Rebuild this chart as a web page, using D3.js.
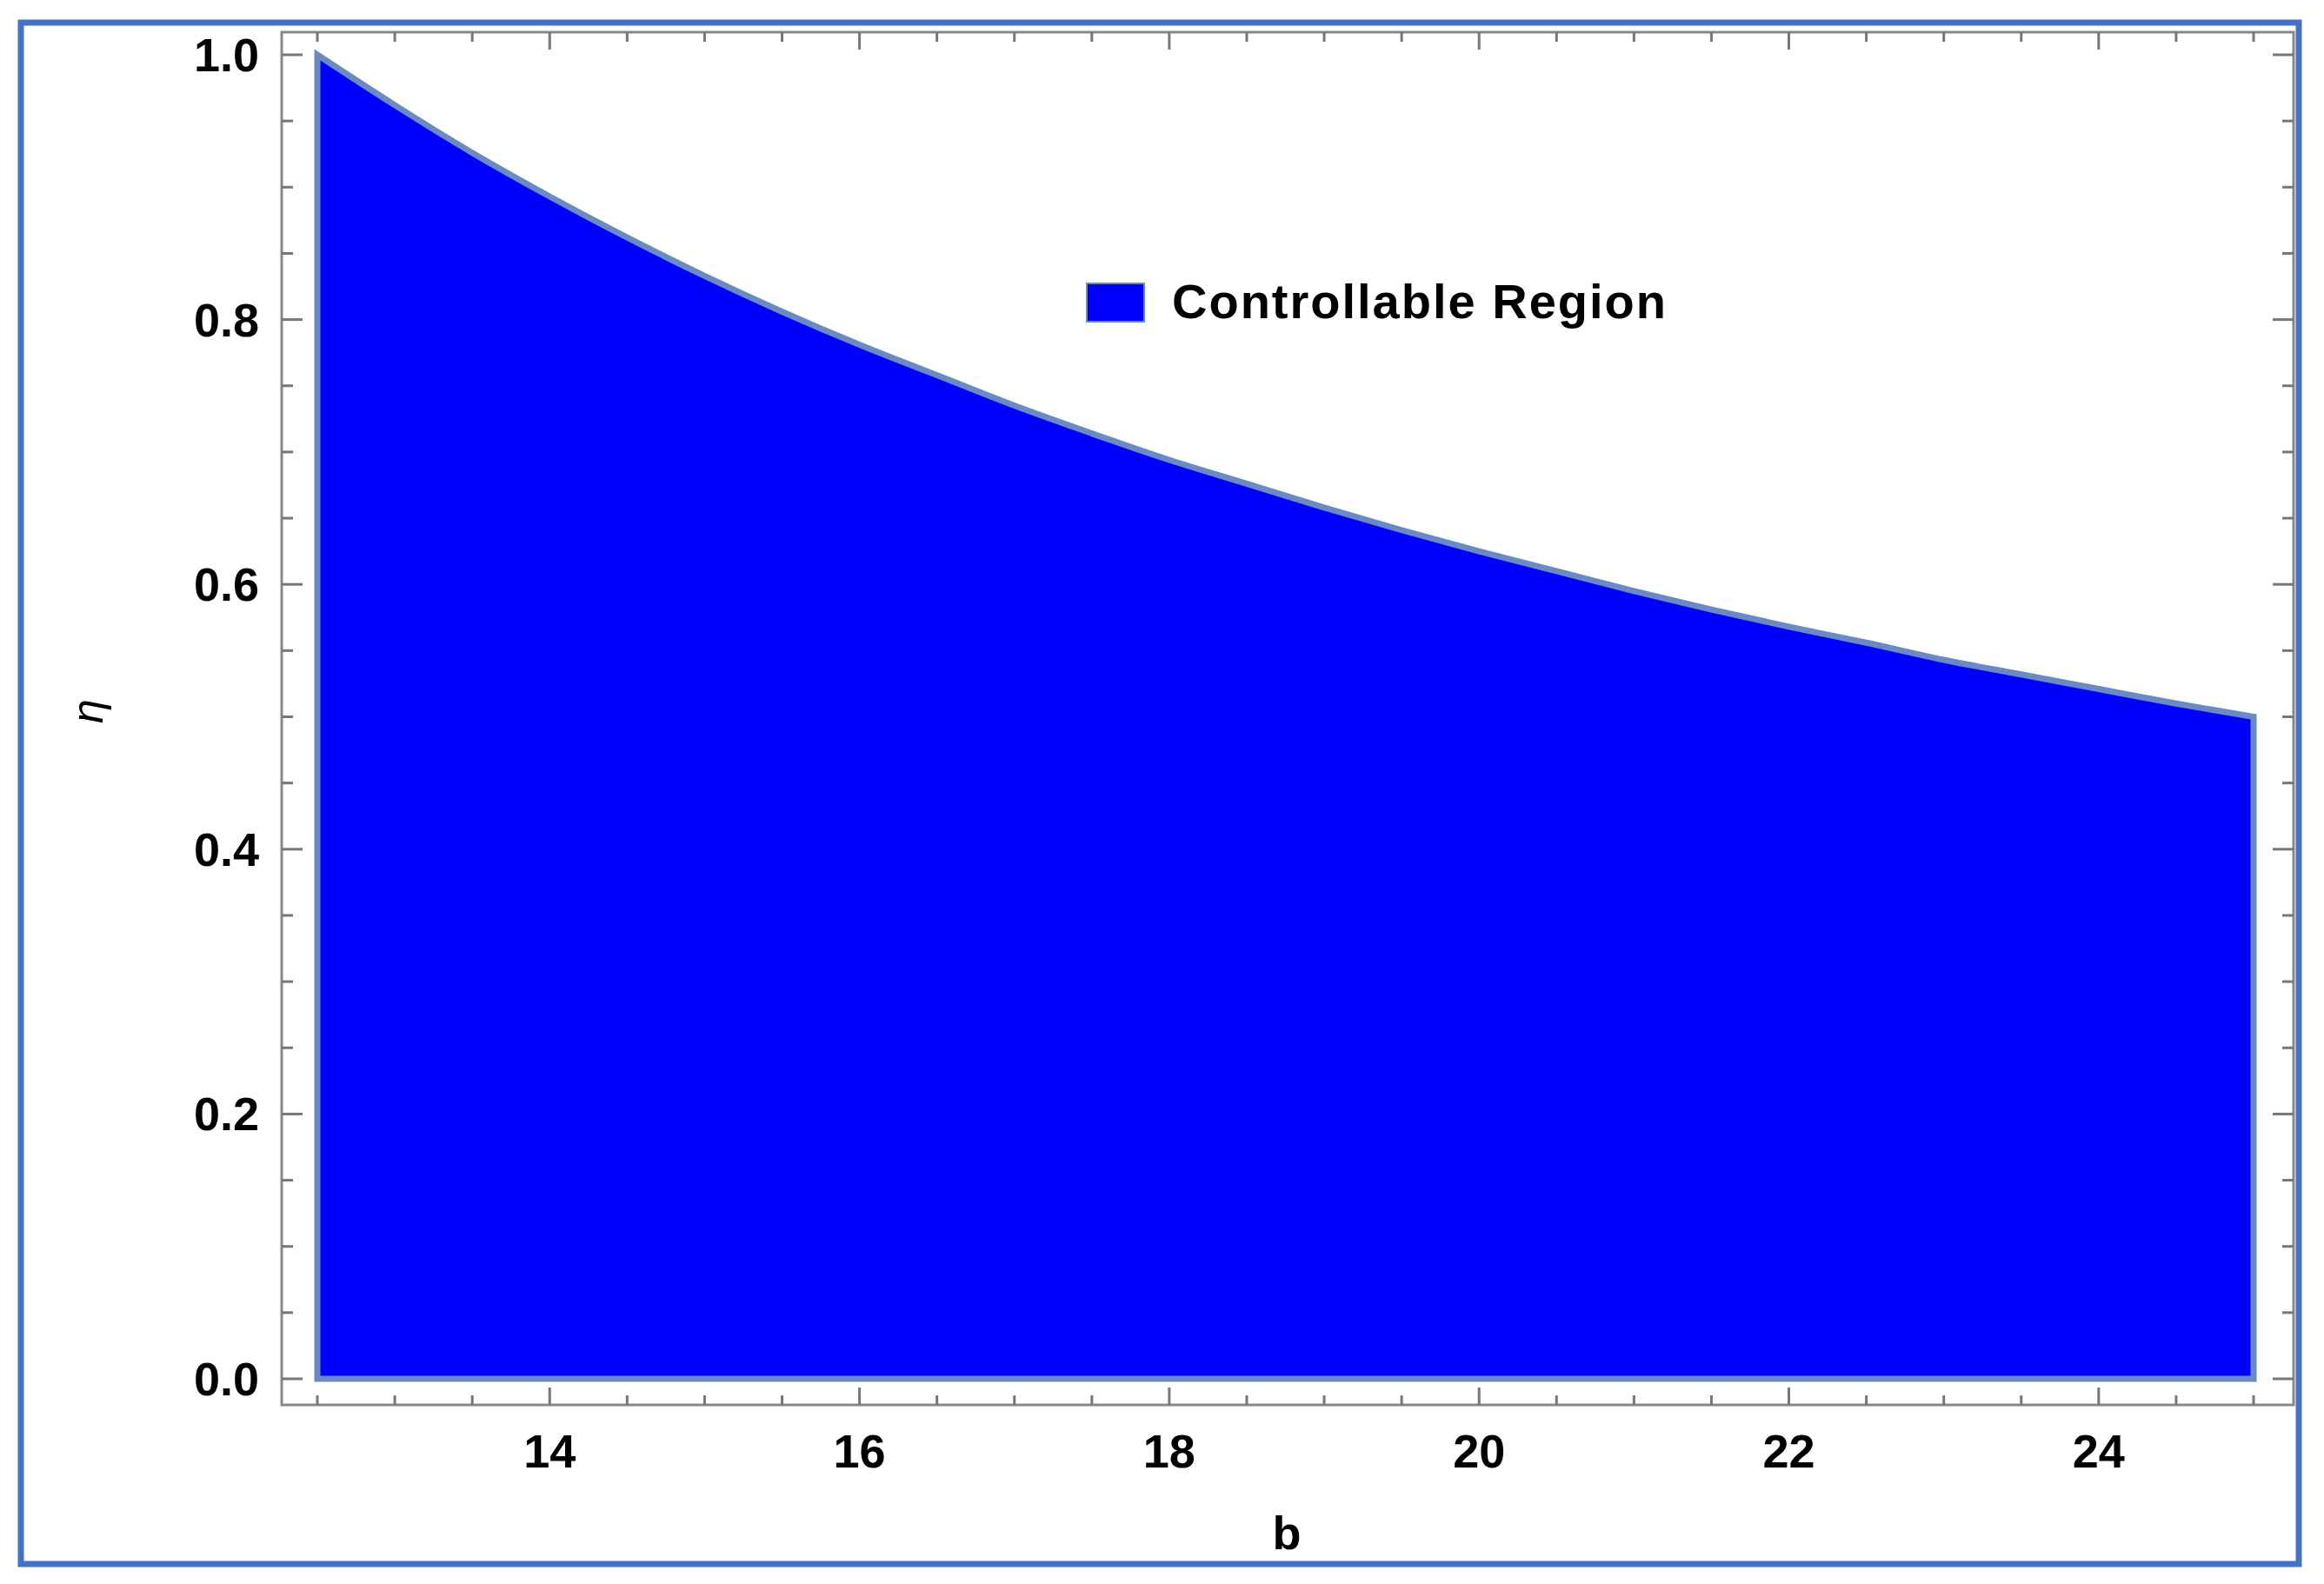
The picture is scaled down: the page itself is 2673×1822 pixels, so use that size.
<!DOCTYPE html>
<html>
<head>
<meta charset="utf-8">
<script src="https://cdn.jsdelivr.net/npm/d3@7"></script>
<style>
  body { margin: 0; background: #fff; }
  text { font-family: "Liberation Sans", Arial, sans-serif; font-weight: bold; fill: #000; }
</style>
</head>
<body>
<svg id="chart"></svg>
<script>
// boundary of the controllable region
const bValues   = [12.5, 13, 13.5, 14, 14.5, 15, 15.5, 16, 16.5, 17, 17.5, 18, 18.5, 19, 19.5, 20, 20.5, 21, 21.5, 22, 22.5, 23, 23.5, 24, 24.5, 25];
const etaValues = [1.0, 0.962, 0.926, 0.893, 0.862, 0.833, 0.806, 0.781, 0.758, 0.735, 0.714, 0.694, 0.676, 0.658, 0.641, 0.625, 0.610, 0.595, 0.581, 0.568, 0.556, 0.543, 0.532, 0.521, 0.510, 0.5];
const xTicks = [14, 16, 18, 20, 22, 24];
const yTicks = [0, 0.2, 0.4, 0.6, 0.8, 1.0];
const legendLabel = "Controllable Region";

const W = 2673, H = 1822;
const svg = d3.select("#chart").attr("width", W).attr("height", H);

// outer blue frame
svg.append("rect")
  .attr("x", 24).attr("y", 26).attr("width", 2620).attr("height", 1773)
  .attr("fill", "none").attr("stroke", "#4472C4").attr("stroke-width", 7);

const frame = { left: 324, right: 2638, top: 37, bottom: 1616 };

const x = d3.scaleLinear().domain([12.5, 25]).range([365, 2592]);
const y = d3.scaleLinear().domain([0, 1]).range([1586, 63]);

// region
const pts = bValues.map((b, i) => ({ b, eta: etaValues[i] }));
const area = d3.area()
  .x(d => x(d.b))
  .y0(y(0))
  .y1(d => y(d.eta))
  .curve(d3.curveMonotoneX);

svg.append("path")
  .datum(pts)
  .attr("d", area)
  .attr("fill", "#0000FF")
  .attr("stroke", "#6A8AC4")
  .attr("stroke-width", 7)
  .attr("stroke-linejoin", "miter");

// frame + inward ticks
svg.append("rect")
  .attr("x", frame.left).attr("y", frame.top)
  .attr("width", frame.right - frame.left).attr("height", frame.bottom - frame.top)
  .attr("fill", "none").attr("stroke", "#888").attr("stroke-width", 3);

const tickColor = "#777";
const xMinor = d3.range(12.5, 25.01, 0.5).filter(v => !xTicks.includes(v));
const yMinor = d3.range(0, 1.001, 0.05).map(v => +v.toFixed(2)).filter(v => !yTicks.includes(v));

function xTickLines(vals, len) {
  vals.forEach(v => {
    svg.append("line").attr("x1", x(v)).attr("x2", x(v))
      .attr("y1", frame.bottom).attr("y2", frame.bottom - len)
      .attr("stroke", tickColor).attr("stroke-width", 3);
    svg.append("line").attr("x1", x(v)).attr("x2", x(v))
      .attr("y1", frame.top).attr("y2", frame.top + len)
      .attr("stroke", tickColor).attr("stroke-width", 3);
  });
}
function yTickLines(vals, len) {
  vals.forEach(v => {
    svg.append("line").attr("y1", y(v)).attr("y2", y(v))
      .attr("x1", frame.left).attr("x2", frame.left + len)
      .attr("stroke", tickColor).attr("stroke-width", 3);
    svg.append("line").attr("y1", y(v)).attr("y2", y(v))
      .attr("x1", frame.right).attr("x2", frame.right - len)
      .attr("stroke", tickColor).attr("stroke-width", 3);
  });
}
xTickLines(xTicks, 20);
xTickLines(xMinor, 11);
yTickLines(yTicks, 24);
yTickLines(yMinor, 13);

// tick labels
svg.selectAll(".xl").data(xTicks).enter().append("text")
  .attr("x", d => x(d)).attr("y", 1688)
  .attr("text-anchor", "middle").style("font-size", "54px")
  .text(d => d);

svg.selectAll(".yl").data(yTicks).enter().append("text")
  .attr("x", 298).attr("y", d => y(d) + 19)
  .attr("text-anchor", "end").style("font-size", "54px")
  .text(d => d.toFixed(1));

// axis labels
svg.append("text").attr("x", 1480).attr("y", 1782)
  .attr("text-anchor", "middle").style("font-size", "54px").text("b");

svg.append("text")
  .attr("transform", "translate(118,818) rotate(-90)")
  .attr("text-anchor", "middle").style("font-size", "50px")
  .style("font-style", "italic").style("font-weight", "normal")
  .text("η");

// legend
svg.append("rect").attr("x", 1250).attr("y", 326).attr("width", 66).attr("height", 44)
  .attr("fill", "#0000FF").attr("stroke", "#6A8AC4").attr("stroke-width", 2);
svg.append("text").attr("x", 1348).attr("y", 366)
  .style("font-size", "56px").style("letter-spacing", "2px").text(legendLabel);
</script>
</body>
</html>
